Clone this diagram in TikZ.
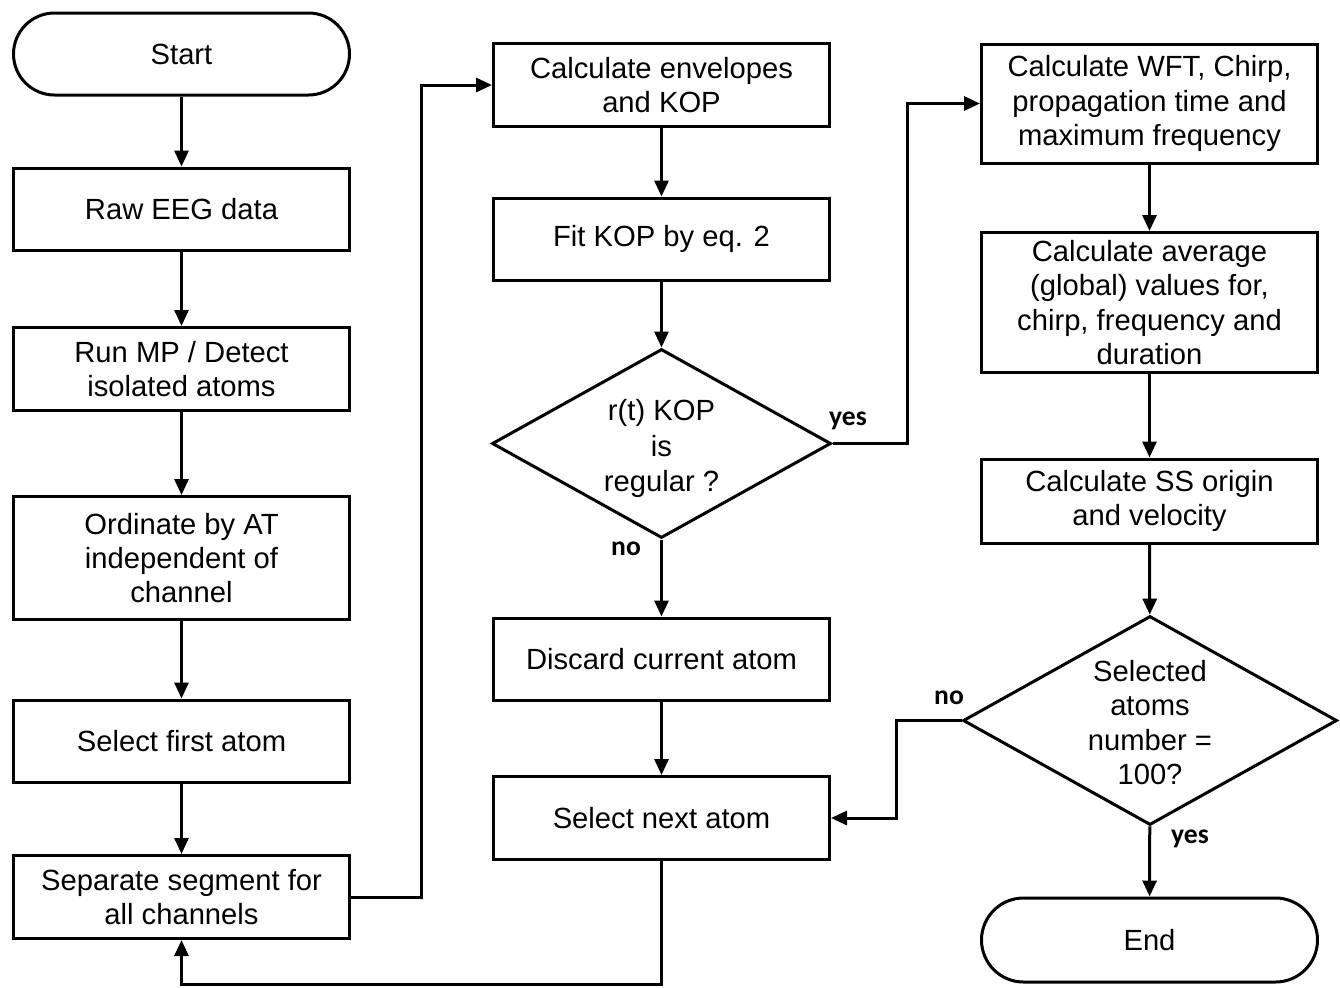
\documentclass[tikz,border=0pt]{standalone}
\usepackage{fontspec}
\setmainfont{Liberation Sans}
\newfontfamily\carl{Carlito}
\usetikzlibrary{shapes.geometric,arrows.meta}
\begin{document}
\begin{tikzpicture}[x=0.5pt,y=-0.5pt,
 txt/.style={align=center,font=\fontsize{14.6}{17.2}\selectfont},
 box/.style={txt,draw,line width=1.5pt,minimum width=168pt,inner sep=0pt},
 term/.style={box,rounded corners=20.5pt},
 dec/.style={draw,diamond,line width=1.5pt,inner sep=0pt},
 arr/.style={line width=1.5pt,-{Triangle[length=8pt,width=7pt]}},
 lab/.style={font=\carl\bfseries\fontsize{13.8}{16}\selectfont}
]
\useasboundingbox (0,0) rectangle (1340,987);
% column 1
\node[term,minimum height=41pt] (start) at (181.5,54) {Start};
\node[box,minimum height=41pt] (raw) at (181.5,209) {Raw EEG data};
\node[box,minimum height=41.5pt] (run) at (181.5,369) {Run MP / Detect\\isolated atoms};
\node[box,minimum height=61.5pt] (ord) at (181.5,558) {Ordinate by AT\\independent of\\channel};
\node[box,minimum height=41pt] (sel1) at (181.5,741) {Select first atom};
\node[box,minimum height=41.5pt] (sep) at (181.5,897) {Separate segment for\\all channels};
% column 2
\node[box,minimum height=41.5pt] (env) at (661.5,85) {Calculate envelopes\\and KOP};
\node[box,minimum height=41pt] (fit) at (661.5,239) {Fit KOP by eq. 2};
\node[dec,minimum width=169.5pt,minimum height=94.5pt,
  label={[txt,font=\fontsize{14.6}{17.7}\selectfont,yshift=-2.5pt]center:r(t) KOP\\is\\regular ?}] (d1) at (661.5,443.5) {};
\node[box,minimum height=41pt] (disc) at (661.5,659) {Discard current atom};
\node[box,minimum height=41.5pt] (next) at (661.5,818) {Select next atom};
% column 3
\node[box,minimum height=59.5pt] (wft) at (1149.5,103.5) {Calculate WFT, Chirp,\\propagation time and\\maximum frequency};
\node[box,minimum height=70pt] (avg) at (1149.5,302.5) {Calculate average\\(global) values for,\\chirp, frequency and\\duration};
\node[box,minimum height=42pt] (ss) at (1149.5,501) {Calculate SS origin\\and velocity};
\node[dec,minimum width=187pt,minimum height=104.5pt,
  label={[txt,yshift=-1pt]center:Selected\\atoms\\number =\\100?}] (d2) at (1150,720.5) {};
\node[term,minimum height=42pt,rounded corners=21pt] (end) at (1149.5,940) {End};
% connectors
\draw[arr] (start) -- (raw);
\draw[arr] (raw) -- (run);
\draw[arr] (run) -- (ord);
\draw[arr] (ord) -- (sel1);
\draw[arr] (sel1) -- (sep);
\draw[arr] (sep.east) -- ++(70,0) |- (env.west);
\draw[arr] (env) -- (fit);
\draw[arr] (fit) -- (d1);
\draw[arr] (d1) -- (disc);
\draw[arr] (disc) -- (next);
\draw[arr] (d1.east) -- ++(75,0) |- (wft.west);
\draw[arr] (wft) -- (avg);
\draw[arr] (avg) -- (ss);
\draw[arr] (ss) -- (d2);
\draw[arr] (d2) -- (end);
\draw[arr] (d2.west) -- ++(-65,0) |- (next.east);
\draw[arr] (next.south) -- ++(0,123) -| (sep.south);
% labels
\node[lab] (lyes1) at (848,421) {yes};
\node[lab] (lno1) at (626,549) {no};
\node[lab] (lno2) at (949,698) {no};
\node[lab] (lyes2) at (1190,839) {yes};
\end{tikzpicture}
\end{document}
